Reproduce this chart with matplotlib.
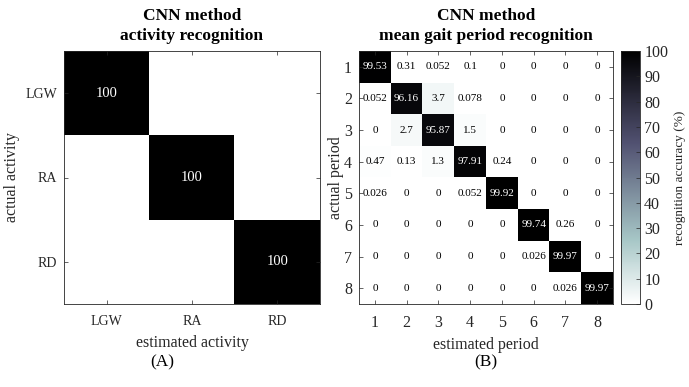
import numpy as np
import matplotlib
matplotlib.use("Agg")
import matplotlib.pyplot as plt

plt.rcParams['font.family'] = ['Liberation Serif', 'DejaVu Serif']

activities = ["LGW", "RA", "RD"]
activity_matrix = [
    [100, 0, 0],
    [0, 100, 0],
    [0, 0, 100],
]

periods = ["1", "2", "3", "4", "5", "6", "7", "8"]
period_matrix = [
    [99.53, 0.31, 0.052, 0.1, 0, 0, 0, 0],
    [0.052, 96.16, 3.7, 0.078, 0, 0, 0, 0],
    [0, 2.7, 95.87, 1.5, 0, 0, 0, 0],
    [0.47, 0.13, 1.3, 97.91, 0.24, 0, 0, 0],
    [0.026, 0, 0, 0.052, 99.92, 0, 0, 0],
    [0, 0, 0, 0, 0, 99.74, 0.26, 0],
    [0, 0, 0, 0, 0, 0.026, 99.97, 0],
    [0, 0, 0, 0, 0, 0, 0.026, 99.97],
]
cbar_ticks = list(range(0, 101, 10))

W, H = 689, 387
fig = plt.figure(figsize=(W / 100, H / 100), dpi=100)

def box(x0, y0, x1, y1):
    return [x0 / W, 1 - y1 / H, (x1 - x0) / W, (y1 - y0) / H]

axA = fig.add_axes(box(64, 51, 320, 304))
axB = fig.add_axes(box(359, 51, 613, 304))
cax = fig.add_axes(box(621, 51, 640, 304))

spine_col = '#262626'
cmap = 'bone_r'

def style(ax, fs):
    for s in ax.spines.values():
        s.set_color(spine_col)
        s.set_linewidth(0.6)
    ax.tick_params(direction='in', length=3, width=0.5, color=spine_col,
                   labelsize=fs, top=True, right=True, labelcolor='#262626')
    ax.tick_params(axis='x', pad=8)
    ax.tick_params(axis='y', pad=5)

A = np.array(activity_matrix, dtype=float)
axA.imshow(A, cmap=cmap, vmin=0, vmax=100, aspect='auto', interpolation='nearest')
for i in range(A.shape[0]):
    for j in range(A.shape[1]):
        if A[i, j] != 0:
            axA.text(j, i, '%.4g' % A[i, j], ha='center', va='center',
                     color='white' if A[i, j] > 50 else 'black', fontsize=10.5)
axA.set_xticks(range(len(activities)), activities)
axA.set_yticks(range(len(activities)), activities)
style(axA, 10)
axA.set_xlabel('estimated activity', fontsize=11.5, color='#262626', labelpad=5)
axA.set_ylabel('actual activity', fontsize=11.5, color='#262626', labelpad=4)
axA.set_title('CNN method\nactivity recognition', fontsize=12.5,
              fontweight='bold', linespacing=1.35, pad=8)

P = np.array(period_matrix, dtype=float)
im = axB.imshow(P, cmap=cmap, vmin=0, vmax=100, aspect='auto', interpolation='nearest')
for i in range(P.shape[0]):
    for j in range(P.shape[1]):
        axB.text(j, i, '%.4g' % P[i, j], ha='center', va='center',
                 color='white' if P[i, j] > 50 else 'black', fontsize=8)
axB.set_xticks(range(len(periods)), periods)
axB.set_yticks(range(len(periods)), periods)
style(axB, 11.5)
axB.set_xlabel('estimated period', fontsize=11.5, color='#262626', labelpad=4)
axB.set_ylabel('actual period', fontsize=11.5, color='#262626', labelpad=0)
axB.set_title('CNN method\nmean gait period recognition', fontsize=12.5,
              fontweight='bold', linespacing=1.35, pad=8)

cb = fig.colorbar(im, cax=cax, ticks=cbar_ticks)
cb.outline.set_color(spine_col)
cb.outline.set_linewidth(0.6)
cax.tick_params(direction='in', length=3, width=0.5, color=spine_col,
                labelsize=11.5, labelcolor='#262626', pad=3)
cb.set_label('recognition accuracy (%)', fontsize=9.5, color='#262626', labelpad=4)

fig.text(162 / W, 1 - 362 / H, '(A)', ha='center', va='center', fontsize=12.5)
fig.text(486 / W, 1 - 362 / H, '(B)', ha='center', va='center', fontsize=12.5)

fig.savefig('out.png', dpi=100)
